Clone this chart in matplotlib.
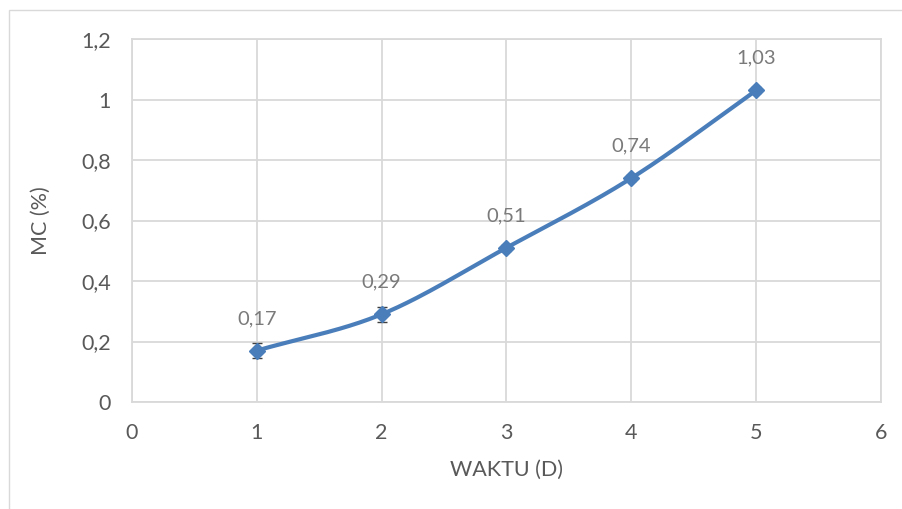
import matplotlib.pyplot as plt
import numpy as np
from matplotlib.patches import Rectangle

# data
waktu = [1, 2, 3, 4, 5]
mc = [0.17, 0.29, 0.51, 0.74, 1.03]
mc_err = [0.025, 0.025, 0.01, 0.01, 0.01]
labels = ["0,17", "0,29", "0,51", "0,74", "1,03"]
xticks = [0, 1, 2, 3, 4, 5, 6]
yticks = [0, 0.2, 0.4, 0.6, 0.8, 1.0, 1.2]
ytick_labels = ["0", "0,2", "0,4", "0,6", "0,8", "1", "1,2"]

plt.rcParams['font.family'] = ['Lato', 'DejaVu Sans']
blue = "#4a7ebb"
grey = "#595959"
gridc = "#d9d9d9"


def smooth(xs, ys, n=40):
    # Catmull-Rom style smoothing like Excel's "smoothed line"
    xs = np.asarray(xs, float)
    ys = np.asarray(ys, float)
    px = np.concatenate([[2 * xs[0] - xs[1]], xs, [2 * xs[-1] - xs[-2]]])
    py = np.concatenate([[2 * ys[0] - ys[1]], ys, [2 * ys[-1] - ys[-2]]])
    ox, oy = [], []
    for i in range(1, len(px) - 2):
        t = np.linspace(0, 1, n)
        for p, o in ((px, ox), (py, oy)):
            p0, p1, p2, p3 = p[i - 1], p[i], p[i + 1], p[i + 2]
            o.extend(0.5 * ((2 * p1) + (-p0 + p2) * t
                            + (2 * p0 - 5 * p1 + 4 * p2 - p3) * t ** 2
                            + (-p0 + 3 * p1 - 3 * p2 + p3) * t ** 3))
    return ox, oy


fig = plt.figure(figsize=(9.03, 5.09), dpi=100)
fig.patches.append(Rectangle((9 / 903, -0.1), 1.2, 1 - 10 / 509 + 0.1,
                             transform=fig.transFigure, fill=False,
                             edgecolor=gridc, linewidth=1))
ax = fig.add_axes([132 / 903, 1 - 402 / 509, 749 / 903, 363 / 509])

sx, sy = smooth(waktu, mc)
ax.plot(sx, sy, color=blue, linewidth=3, solid_capstyle="round", zorder=3)
ax.errorbar(waktu, mc, yerr=mc_err, fmt="none", ecolor="#404040",
            elinewidth=1, capsize=3.5, zorder=4)
ax.plot(waktu, mc, linestyle="none", marker="D", markersize=8.5,
        color=blue, zorder=5)

for x, y, t in zip(waktu, mc, labels):
    ax.annotate(t, (x, y), xytext=(0, 17), textcoords="offset points",
                ha="center", va="bottom", fontsize=14.5, color="#7a7a7a")

ax.set_xlim(0, 6)
ax.set_ylim(0, 1.2)
ax.set_xticks(xticks)
ax.set_yticks(yticks)
ax.set_yticklabels(ytick_labels)
ax.tick_params(length=0, labelsize=15.5, labelcolor=grey)
ax.tick_params(axis="x", pad=15)
ax.tick_params(axis="y", pad=15)
ax.grid(True, color=gridc, linewidth=1.3)
ax.set_axisbelow(True)
for s in ax.spines.values():
    s.set_color(gridc)
    s.set_linewidth(1.3)

ax.set_xlabel("WAKTU (D)", fontsize=15.5, color=grey, labelpad=12)
ax.set_ylabel("MC (%)", fontsize=15.5, color=grey, labelpad=22)

fig.savefig("out.png", dpi=100)
